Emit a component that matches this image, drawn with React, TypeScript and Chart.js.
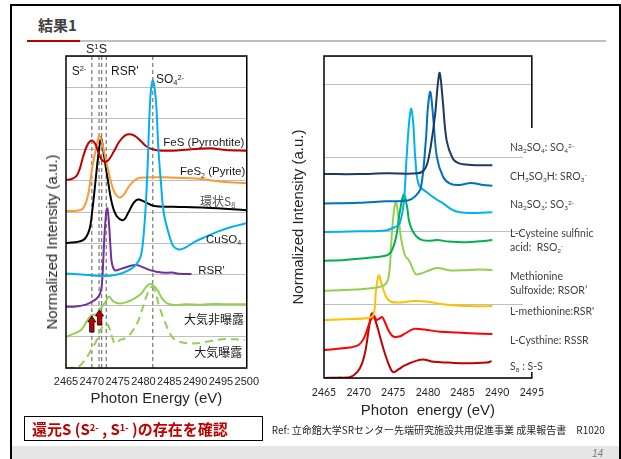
import React, { useEffect, useRef } from 'react';
import { Chart, registerables } from 'chart.js';

Chart.register(...registerables);

// ---------------- Left panel (stacked S K-edge XANES, y in 0..10 units) ----------------
const LEFT_X_MIN = 2465;
const LEFT_X_MAX = 2500;
const LEFT_Y_MAX = 10;
const FES = [[2465, 6.03], [2466, 6.05], [2467, 6.15], [2467.7, 6.4], [2468.3, 6.77], [2469, 7.1], [2469.6, 7.26], [2470.1, 7.29], [2470.7, 7.17], [2471.3, 6.9], [2471.9, 6.68], [2472.6, 6.61], [2473.3, 6.68], [2474.2, 6.92], [2475.3, 7.25], [2476.4, 7.45], [2477.4, 7.49], [2478.4, 7.43], [2479.5, 7.27], [2480.6, 7.1], [2481.8, 7.01], [2483, 6.97], [2485, 6.96], [2487, 6.98], [2490, 7.02], [2493, 7.04], [2496, 6.99], [2500, 6.96]];
const FES2 = [[2465, 5.03], [2467, 5.04], [2468.3, 5.12], [2469.2, 5.49], [2470.1, 6.45], [2470.9, 7.09], [2471.5, 7.45], [2472.3, 6.99], [2473.3, 6.24], [2474.2, 5.7], [2475.2, 5.47], [2476.1, 5.54], [2477.4, 5.87], [2478.9, 6.08], [2480.8, 6.11], [2484.6, 6.11], [2490.2, 6.07], [2495.3, 5.97], [2500, 5.92]];
const S8_RING = [[2465, 4.0], [2468.3, 4.1], [2469.5, 4.42], [2470.1, 5.06], [2470.8, 6.13], [2471.3, 6.88], [2471.8, 7.38], [2472.3, 6.88], [2473, 6.13], [2473.9, 5.27], [2474.8, 4.87], [2476.1, 4.74], [2477, 4.96], [2478, 5.27], [2478.9, 5.4], [2480.2, 5.33], [2482.1, 5.19], [2485.8, 5.17], [2492.1, 5.14], [2500, 5.06]];
const CUSO4 = [[2465, 3.03], [2468, 3.0], [2472, 2.95], [2475, 3.0], [2477, 3.12], [2478.5, 3.3], [2479.5, 3.6], [2480.1, 4.4], [2480.5, 5.38], [2480.8, 6.45], [2481.3, 8.59], [2481.8, 9.23], [2482.4, 8.59], [2482.9, 7.0], [2483.4, 5.9], [2483.9, 5.0], [2484.9, 4.3], [2485.8, 3.9], [2486.8, 3.8], [2488, 3.85], [2490, 4.05], [2492.1, 4.21], [2494.5, 4.38], [2497, 4.52], [2500, 4.64]];
const RSR_LEFT = [[2465, 1.96], [2467, 1.97], [2469, 2.04], [2470.2, 2.14], [2470.9, 2.22], [2471.5, 2.35], [2471.9, 2.6], [2472.2, 3.4], [2472.5, 4.4], [2472.8, 5.0], [2473.0, 5.12], [2473.3, 4.7], [2473.6, 3.9], [2473.9, 3.35], [2474.5, 3.13], [2475.5, 3.17], [2476.5, 3.22], [2477.5, 3.28], [2478.6, 3.3], [2479.6, 3.25], [2480.6, 3.18], [2481.6, 3.12], [2482.7, 3.08], [2484, 3.05], [2485.5, 3.06], [2487, 3.02], [2489.3, 3.01]];
const AIR_UNEXPOSED = [[2465, 1.0], [2466.2, 1.08], [2467.9, 1.22], [2469.2, 1.54], [2470, 1.7], [2470.8, 1.72], [2471.7, 1.91], [2472.7, 2.13], [2473.3, 2.29], [2474.2, 2.13], [2475.5, 2.07], [2477, 2.13], [2478.3, 2.23], [2479.6, 2.39], [2480.5, 2.6], [2481.4, 2.69], [2482.7, 2.5], [2483.6, 2.23], [2484.6, 2.07], [2486, 2.02], [2488, 2.04], [2491, 2.03], [2494, 2.05], [2497, 2.04], [2500, 2.04]];
const AIR_EXPOSED = [[2465, 0], [2467.2, 0.02], [2468.9, 0.31], [2469.95, 0.6], [2470.8, 0.84], [2471.7, 1.22], [2472.7, 1.43], [2473.3, 1.32], [2473.9, 1.0], [2474.5, 0.79], [2475.5, 0.9], [2476.4, 0.95], [2477.5, 1.1], [2478.9, 1.48], [2479.8, 1.9], [2480.7, 2.35], [2481.6, 2.6], [2482.3, 2.45], [2483, 2.0], [2484, 1.54], [2485, 1.15], [2485.8, 0.95], [2487.5, 0.82], [2490.2, 0.79], [2492.5, 0.85], [2495.2, 0.92], [2497.5, 0.92], [2499.6, 0.9]];
const LEFT_DASH_EV = [2470, 2471.4, 2471.9, 2472.8, 2481.8];
const ARROWS = [[2470, 1.15, 1.67], [2471.5, 1.38, 1.86]];

// ---------------- Right panel (reference compounds, y in 0..4.39 units) ----------------
const RIGHT_X_MIN = 2465;
const RIGHT_X_MAX = 2495;
const RIGHT_Y_MAX = 4.39;
const NA2SO4 = [[2465, 2.78], [2470, 2.78], [2474, 2.79], [2478.5, 2.79], [2479.4, 2.83], [2479.9, 2.92], [2480.4, 3.15], [2481.05, 3.6], [2481.4, 3.98], [2481.7, 4.16], [2482.1, 3.83], [2482.7, 3.24], [2483.6, 2.99], [2484.4, 2.93], [2485.5, 2.91], [2487, 2.9], [2489.3, 2.9]];
const CH3SO3H = [[2465, 2.38], [2470, 2.39], [2474, 2.41], [2477.1, 2.42], [2478.2, 2.48], [2479, 2.6], [2479.7, 3.24], [2480.0, 3.69], [2480.35, 3.9], [2480.8, 3.51], [2481.3, 3.01], [2482.2, 2.74], [2483.2, 2.65], [2484.5, 2.63], [2486.2, 2.66], [2488, 2.63], [2489.3, 2.62]];
const NA2SO3 = [[2465, 1.99], [2470, 2.0], [2473.8, 2.01], [2475.3, 2.06], [2475.9, 2.1], [2476.5, 2.38], [2476.9, 2.97], [2477.3, 3.5], [2477.6, 3.67], [2477.9, 3.45], [2478.2, 2.97], [2478.7, 2.63], [2479.9, 2.53], [2481.0, 2.45], [2482.2, 2.38], [2483.4, 2.3], [2484.6, 2.26], [2486.5, 2.25], [2489.3, 2.26]];
const LCYS_SULFINIC = [[2465, 1.6], [2468, 1.61], [2471.5, 1.64], [2474.0, 1.67], [2474.7, 1.72], [2475.4, 1.92], [2475.9, 2.24], [2476.5, 2.5], [2477.0, 2.33], [2477.3, 2.13], [2478.0, 1.97], [2478.9, 1.89], [2480, 1.87], [2481.3, 1.88], [2483, 1.86], [2485, 1.85], [2487, 1.86], [2489.3, 1.88]];
const MET_SULFOXIDE = [[2465, 1.19], [2468, 1.2], [2471.5, 1.22], [2473.6, 1.26], [2474.2, 1.33], [2474.5, 1.51], [2474.8, 1.97], [2475.1, 2.28], [2475.4, 2.4], [2475.8, 2.15], [2476.1, 1.92], [2476.7, 1.67], [2477.3, 1.6], [2478.2, 1.42], [2478.9, 1.42], [2480, 1.46], [2481.3, 1.5], [2483, 1.47], [2485.5, 1.47], [2487.5, 1.48], [2489.3, 1.47]];
const L_METHIONINE = [[2465, 0.79], [2468, 0.8], [2471.5, 0.82], [2472.2, 0.88], [2472.5, 1.19], [2472.9, 1.4], [2473.3, 1.29], [2474.0, 1.1], [2474.7, 1.04], [2476, 1.03], [2478, 1.05], [2480, 1.04], [2481.8, 1.01], [2484, 0.99], [2486, 0.98], [2489.3, 0.98]];
const L_CYSTHINE = [[2465, 0.38], [2467, 0.4], [2469, 0.42], [2470, 0.45], [2470.7, 0.53], [2471.2, 0.65], [2471.7, 0.78], [2472.2, 0.85], [2472.6, 0.79], [2473.0, 0.81], [2473.4, 0.83], [2473.8, 0.76], [2474.3, 0.65], [2474.8, 0.58], [2475.2, 0.56], [2476.0, 0.57], [2476.6, 0.6], [2478, 0.67], [2479.5, 0.66], [2481.8, 0.63], [2484, 0.62], [2486, 0.61], [2489.3, 0.6]];
const S8_REF = [[2465, 0], [2467, 0.005], [2468.7, 0.01], [2469.8, 0.08], [2470.5, 0.2], [2471, 0.38], [2471.5, 0.69], [2471.9, 0.88], [2472.4, 0.79], [2473.1, 0.56], [2473.8, 0.33], [2474.5, 0.15], [2475, 0.08], [2475.8, 0.12], [2476.6, 0.17], [2478.5, 0.24], [2479.5, 0.25], [2480.8, 0.22], [2483, 0.21], [2485.5, 0.2], [2488.5, 0.21], [2489.2, 0.23]];

const LATIN = "'Liberation Sans', Arial, sans-serif";
const CJK = "'Noto Sans CJK JP', 'Liberation Sans', sans-serif";

const line = (label: string, pts: number[][], color: string, extra: any = {}) => ({
  label,
  data: pts.map(([x, y]) => ({ x, y })),
  borderColor: color,
  backgroundColor: color,
  borderWidth: 2,
  pointRadius: 0,
  tension: 0.35,
  fill: false,
  ...extra,
});

const framePlugin = {
  id: 'frame',
  afterDatasetsDraw(chart: any) {
    const { ctx, chartArea: a } = chart;
    ctx.save();
    ctx.strokeStyle = '#000';
    ctx.lineWidth = 1.5;
    ctx.strokeRect(a.left, a.top, a.right - a.left, a.bottom - a.top);
    ctx.restore();
  },
};

const arrowPlugin = {
  id: 'arrows',
  afterDatasetsDraw(chart: any, _args: any, opts: any) {
    const list = opts && opts.list;
    if (!list) return;
    const { ctx } = chart;
    const xs = chart.scales.x;
    const ys = chart.scales.y;
    ctx.save();
    list.forEach(([ev, y0, y1]: number[]) => {
      const px = xs.getPixelForValue(ev);
      const pb = ys.getPixelForValue(y0);
      const pt = ys.getPixelForValue(y1);
      const sw = 2.2, hw = 4, hh = 6;
      ctx.beginPath();
      ctx.moveTo(px - sw, pb);
      ctx.lineTo(px - sw, pt + hh);
      ctx.lineTo(px - hw, pt + hh);
      ctx.lineTo(px, pt);
      ctx.lineTo(px + hw, pt + hh);
      ctx.lineTo(px + sw, pt + hh);
      ctx.lineTo(px + sw, pb);
      ctx.closePath();
      ctx.fillStyle = '#c00000';
      ctx.fill();
      ctx.strokeStyle = '#000';
      ctx.lineWidth = 0.8;
      ctx.stroke();
    });
    ctx.restore();
  },
};

function LeftChart() {
  const ref = useRef<HTMLCanvasElement>(null);
  useEffect(() => {
    const dashSets = LEFT_DASH_EV.map((ev) =>
      line('dash', [[ev, 0], [ev, LEFT_Y_MAX]], '#808080', { borderWidth: 1.3, borderDash: [4, 3], tension: 0, order: 10 })
    );
    const chart = new Chart(ref.current as HTMLCanvasElement, {
      type: 'line',
      data: {
        datasets: [
          line('CuSO4', CUSO4, '#00b0f0', { order: 0 }),
          line('FeS (Pyrrohtite)', FES, '#c00000', { order: 1 }),
          line('FeS2 (Pyrite)', FES2, '#ff9933', { order: 1 }),
          line('環状S8', S8_RING, '#000000', { order: 1 }),
          line("RSR'", RSR_LEFT, '#7030a0', { order: 1 }),
          line('大気非曝露', AIR_UNEXPOSED, '#92d050', { order: 1 }),
          line('大気曝露', AIR_EXPOSED, '#92d050', { order: 1, borderDash: [8, 5] }),
          ...dashSets,
        ],
      },
      options: {
        responsive: false,
        animation: false,
        events: [],
        layout: { padding: { top: 16, right: 14, left: 0, bottom: 0 } },
        plugins: { legend: { display: false }, tooltip: { enabled: false }, arrows: { list: ARROWS } } as any,
        scales: {
          x: {
            type: 'linear',
            min: LEFT_X_MIN,
            max: LEFT_X_MAX,
            grid: { display: false, drawTicks: false },
            border: { display: false },
            afterFit: (s: any) => { s.height = 52; },
            ticks: {
              stepSize: 5,
              padding: 7,
              maxRotation: 0,
              autoSkip: false,
              color: '#262626',
              font: { family: LATIN, size: 11 },
              callback: (v: any) => String(v),
            },
            title: {
              display: true,
              text: 'Photon Energy (eV)',
              color: '#262626',
              font: { family: LATIN, size: 15 },
              padding: { top: 0, bottom: 12 },
            },
          },
          y: {
            min: 0,
            max: LEFT_Y_MAX,
            grid: { color: '#bfbfbf', lineWidth: 1, drawTicks: false },
            border: { display: false },
            afterFit: (s: any) => { s.width = 46; },
            ticks: { display: false, stepSize: 1 },
          },
        },
      } as any,
      plugins: [framePlugin, arrowPlugin],
    });
    return () => chart.destroy();
  }, []);
  return <canvas ref={ref} width={246} height={380} style={{ position: 'absolute', left: 20, top: 40, width: 246, height: 380 }} />;
}

function RightChart() {
  const ref = useRef<HTMLCanvasElement>(null);
  useEffect(() => {
    const chart = new Chart(ref.current as HTMLCanvasElement, {
      type: 'line',
      data: {
        datasets: [
          line('Na2SO4', NA2SO4, '#1f3864'),
          line('CH3SO3H', CH3SO3H, '#0070c0'),
          line('Na2SO3', NA2SO3, '#00b0f0'),
          line('L-Cysteine sulfinic acid', LCYS_SULFINIC, '#00b050'),
          line('Methionine Sulfoxide', MET_SULFOXIDE, '#92d050'),
          line('L-methionine', L_METHIONINE, '#ffc000'),
          line('L-Cysthine', L_CYSTHINE, '#ff0000'),
          line('S8', S8_REF, '#c00000'),
        ],
      },
      options: {
        responsive: false,
        animation: false,
        events: [],
        layout: { padding: { top: 16, right: 14, left: 0, bottom: 0 } },
        plugins: { legend: { display: false }, tooltip: { enabled: false } },
        scales: {
          x: {
            type: 'linear',
            min: RIGHT_X_MIN,
            max: RIGHT_X_MAX,
            grid: { display: false, drawTicks: false },
            border: { display: false },
            afterFit: (s: any) => { s.height = 52; },
            ticks: {
              stepSize: 5,
              padding: 8,
              maxRotation: 0,
              autoSkip: false,
              color: '#262626',
              font: { family: "Lato, 'Liberation Sans', sans-serif", size: 10.5 },
              callback: (v: any) => String(v),
            },
            title: {
              display: true,
              text: 'Photon  energy (eV)',
              color: '#262626',
              font: { family: LATIN, size: 15 },
              padding: { top: 0, bottom: 10 },
            },
          },
          y: {
            min: 0,
            max: RIGHT_Y_MAX,
            grid: { color: '#bfbfbf', lineWidth: 1, drawTicks: false },
            border: { display: false },
            afterFit: (s: any) => { s.width = 44; },
            ticks: { display: false, stepSize: 1 },
            title: {
              display: true,
              text: 'Normalized Intensity (a.u.)',
              color: '#262626',
              font: { family: LATIN, size: 15 },
              padding: { top: 10, bottom: 0 },
            },
          },
        },
      } as any,
      plugins: [framePlugin],
    });
    return () => chart.destroy();
  }, []);
  return <canvas ref={ref} width={272} height={390} style={{ position: 'absolute', left: 280, top: 40, width: 272, height: 390 }} />;
}

const Sub = ({ children }: any) => <span style={{ fontSize: '0.62em', position: 'relative', top: '0.3em' }}>{children}</span>;
const Sup = ({ children }: any) => <span style={{ fontSize: '0.62em', position: 'relative', top: '-0.45em' }}>{children}</span>;

const Txt = ({ x, cy, size, family = LATIN, color = '#1a1a1a', style = {}, children }: any) => (
  <div
    style={{
      position: 'absolute',
      left: x,
      top: cy - size * 0.6,
      fontSize: size,
      lineHeight: `${size * 1.2}px`,
      fontFamily: family,
      color,
      whiteSpace: 'nowrap',
      ...style,
    }}
  >
    {children}
  </div>
);

const RF = "Lato, 'Liberation Sans', sans-serif";
const RC = '#404040';

export default function App() {
  return (
    <div style={{ position: 'absolute', left: 0, top: 0, width: 621, height: 459, overflow: 'hidden', background: '#fff' }}>
      {/* slide frame */}
      <div style={{ position: 'absolute', left: 10, top: 4, width: 611, height: 455, boxSizing: 'border-box', borderTop: '2px solid #000', borderLeft: '2px solid #000', borderRight: '2px solid #000' }} />
      <div style={{ position: 'absolute', left: 12, top: 446, width: 607, height: 13, background: '#e7e6e6' }} />
      <Txt x={0} cy={454} size={10} color="#7f7f7f" style={{ left: 'auto', right: 18, fontStyle: 'italic' }}>14</Txt>

      {/* slide title */}
      <Txt x={38} cy={25} size={15} family={CJK} color="#404040" style={{ fontWeight: 700 }}>結果1</Txt>
      <div style={{ position: 'absolute', left: 27, top: 40, width: 53, height: 2, background: '#c00000' }} />
      <div style={{ position: 'absolute', left: 80, top: 40, width: 526, height: 2, background: '#bfbfbf' }} />

      <LeftChart />
      <RightChart />

      {/* left panel annotations */}
      <div style={{ position: 'absolute', left: 52, top: 241.5, transform: 'translate(-50%, -50%) rotate(-90deg)', fontFamily: LATIN, fontSize: 15, lineHeight: '18px', color: '#262626', whiteSpace: 'nowrap' }}>
        Normalized Intensity (a.u.)
      </div>
      <Txt x={86} cy={49.3} size={12.5}>S<Sup>1</Sup>S</Txt>
      <Txt x={71.7} cy={70.7} size={12}>S<Sup>2-</Sup></Txt>
      <Txt x={111} cy={70.7} size={12}>RSR'</Txt>
      <Txt x={156} cy={79.3} size={12}>SO<Sub>4</Sub><Sup>2-</Sup></Txt>
      <Txt x={163.3} cy={142.7} size={11.5}>FeS (Pyrrohtite)</Txt>
      <Txt x={180} cy={172.3} size={11.5}>FeS<Sub>2</Sub> (Pyrite)</Txt>
      <Txt x={200} cy={200.7} size={12} family={CJK} color="#555">環状S<Sub>8</Sub></Txt>
      <Txt x={206} cy={240} size={11.5}>CuSO<Sub>4</Sub></Txt>
      <Txt x={198.3} cy={271} size={11.5}>RSR'</Txt>
      <Txt x={184} cy={319.3} size={12} family={CJK}>大気非曝露</Txt>
      <Txt x={194.3} cy={351.7} size={12} family={CJK}>大気曝露</Txt>

      {/* right panel: cover of right frame segment and labels */}
      <div style={{ position: 'absolute', left: 523, top: 128, width: 18, height: 244, background: '#fff' }} />
      <Txt x={510} cy={147} size={10.5} family={RF} color={RC}>Na<Sub>2</Sub>SO<Sub>4</Sub>: SO<Sub>4</Sub><Sup>2-</Sup></Txt>
      <Txt x={510} cy={176.7} size={10.5} family={RF} color={RC}>CH<Sub>3</Sub>SO<Sub>3</Sub>H: SRO<Sub>3</Sub><Sup>-</Sup></Txt>
      <Txt x={510} cy={204} size={10.5} family={RF} color={RC}>Na<Sub>2</Sub>SO<Sub>3</Sub>: SO<Sub>3</Sub><Sup>2-</Sup></Txt>
      <Txt x={510} cy={233} size={10.5} family={RF} color={RC}>L-Cysteine sulfinic</Txt>
      <Txt x={510} cy={247.7} size={10.5} family={RF} color={RC}>acid:&nbsp; RSO<Sub>2</Sub><Sup>-</Sup></Txt>
      <Txt x={510} cy={276} size={10.5} family={RF} color={RC}>Methionine</Txt>
      <Txt x={510} cy={290.7} size={10.5} family={RF} color={RC}>Sulfoxide: RSOR’</Txt>
      <Txt x={510} cy={311.7} size={10.5} family={RF} color={RC}>L-methionine:RSR'</Txt>
      <Txt x={510} cy={340.7} size={10.5} family={RF} color={RC}>L-Cysthine: RSSR</Txt>
      <Txt x={510} cy={366.7} size={10.5} family={RF} color={RC}>S<Sub>8</Sub> : S-S</Txt>

      {/* bottom caption */}
      <div style={{ position: 'absolute', left: 24, top: 416, width: 239, height: 25, boxSizing: 'border-box', border: '1px solid #000' }} />
      <Txt x={32} cy={429} size={15} family={CJK} color="#c00000" style={{ fontWeight: 700 }}>
        還元S (S<Sup>2-</Sup> , S<Sup>1-</Sup> )の存在を確認
      </Txt>
      <Txt x={271.7} cy={430} size={10} family={CJK} color="#262626">
        Ref: 立命館大学SRセンター先端研究施設共用促進事業 成果報告書　R1020
      </Txt>
    </div>
  );
}
